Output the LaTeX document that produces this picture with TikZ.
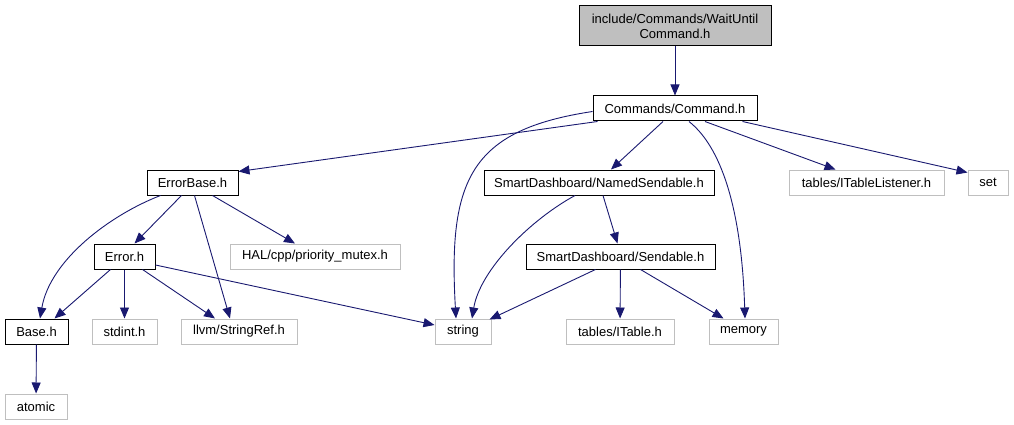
\documentclass[tikz,border=0pt]{standalone}
\usepackage{fontspec}
\setmainfont{Liberation Sans}
\usetikzlibrary{arrows.meta}
\definecolor{edgeblue}{HTML}{191970}
\definecolor{extgray}{HTML}{BFBFBF}

\begin{document}
\begin{tikzpicture}[x=1pt,y=-1pt,
  every node/.style={font=\fontsize{13}{15}\selectfont, inner sep=0pt, minimum height=25pt},
  file/.style={draw=black, line width=1pt, fill=white},
  ext/.style={draw=extgray, line width=1pt, fill=white},
  dep/.style={edgeblue, line width=0.9pt, -{Triangle[length=11pt,width=9pt]}}]
\useasboundingbox (0,0) rectangle (1014,425);
% files
\node[file, fill=extgray, minimum width=192pt, minimum height=40pt, align=center] (wait) at (675,26) {include/Commands/WaitUntil\\Command.h};
\node[file, minimum width=164pt] (cmd) at (675,108.5) {Commands/Command.h};
\node[file, minimum width=91pt] (errbase) at (192.5,182.5) {ErrorBase.h};
\node[file, minimum width=230pt] (named) at (599,182.5) {SmartDashboard/NamedSendable.h};
\node[ext, minimum width=155pt] (itl) at (866.5,182.5) {tables/ITableListener.h};
\node[ext, minimum width=40pt] (set) at (988,182.5) {set};
\node[file, minimum width=61pt] (error) at (124.5,256.5) {Error.h};
\node[ext, minimum width=170pt] (hal) at (315,256.5) {HAL/cpp/priority\_mutex.h};
\node[file, minimum width=189pt] (sendable) at (620.5,256.5) {SmartDashboard/Sendable.h};
\node[file, minimum width=63pt] (base) at (36.5,331.5) {Base.h};
\node[ext, minimum width=65pt] (stdint) at (124.5,331.5) {stdint.h};
\node[ext, minimum width=116pt] (llvm) at (239,331.5) {llvm/StringRef.h};
\node[ext, minimum width=56pt] (string) at (463,331.5) {string};
\node[ext, minimum width=108pt] (itable) at (620,331.5) {tables/ITable.h};
\node[ext, minimum width=69pt] (memory) at (743.5,331.5) {memory};
\node[ext, minimum width=62pt] (atomic) at (36,406.5) {atomic};
% includes
\draw[dep] (wait) -- (cmd);
\draw[dep] ([xshift=5pt]cmd.south west) -- ([yshift=-2pt]errbase.north east);
\draw[dep] ([yshift=-3pt]cmd.west) .. controls (470,130) and (448,180) .. ([xshift=-7pt]string.north);
\draw[dep] ([xshift=-12pt]cmd.south) -- ([xshift=12pt]named.north);
\draw[dep] ([xshift=14pt]cmd.south) .. controls (725,150) and (742,220) .. ([xshift=1.5pt]memory.north);
\draw[dep] ([xshift=30pt]cmd.south) -- ([xshift=-31pt]itl.north);
\draw[dep] ([xshift=-15pt]cmd.south east) -- ([yshift=-3pt]set.north west);
\draw[dep] ([xshift=-32pt]errbase.south) .. controls (110,215) and (50,260) .. ([xshift=3.5pt]base.north);
\draw[dep] ([xshift=-11pt]errbase.south) -- ([xshift=10pt]error.north);
\draw[dep] ([xshift=2pt]errbase.south) -- ([xshift=-9pt]llvm.north);
\draw[dep] ([xshift=20pt]errbase.south) -- ([xshift=-20pt]hal.north);
\draw[dep] ([xshift=-14pt]error.south) -- ([xshift=18pt]base.north);
\draw[dep] (error) -- (stdint);
\draw[dep] ([xshift=18pt]error.south) -- ([xshift=-24pt]llvm.north);
\draw[dep] ([yshift=-8.5pt]error.east) -- ([yshift=6.5pt]string.west);
\draw[dep] (base) -- (atomic);
\draw[dep] ([xshift=-24pt]named.south) .. controls (530,220) and (480,270) .. ([xshift=9pt]string.north);
\draw[dep] ([xshift=4pt]named.south) -- ([xshift=-3pt]sendable.north);
\draw[dep] ([xshift=-25pt]sendable.south) -- ([xshift=-2pt,yshift=-1pt]string.north east);
\draw[dep] (sendable) -- (itable);
\draw[dep] ([xshift=20pt]sendable.south) -- ([xshift=-20pt]memory.north);
\end{tikzpicture}
\end{document}
